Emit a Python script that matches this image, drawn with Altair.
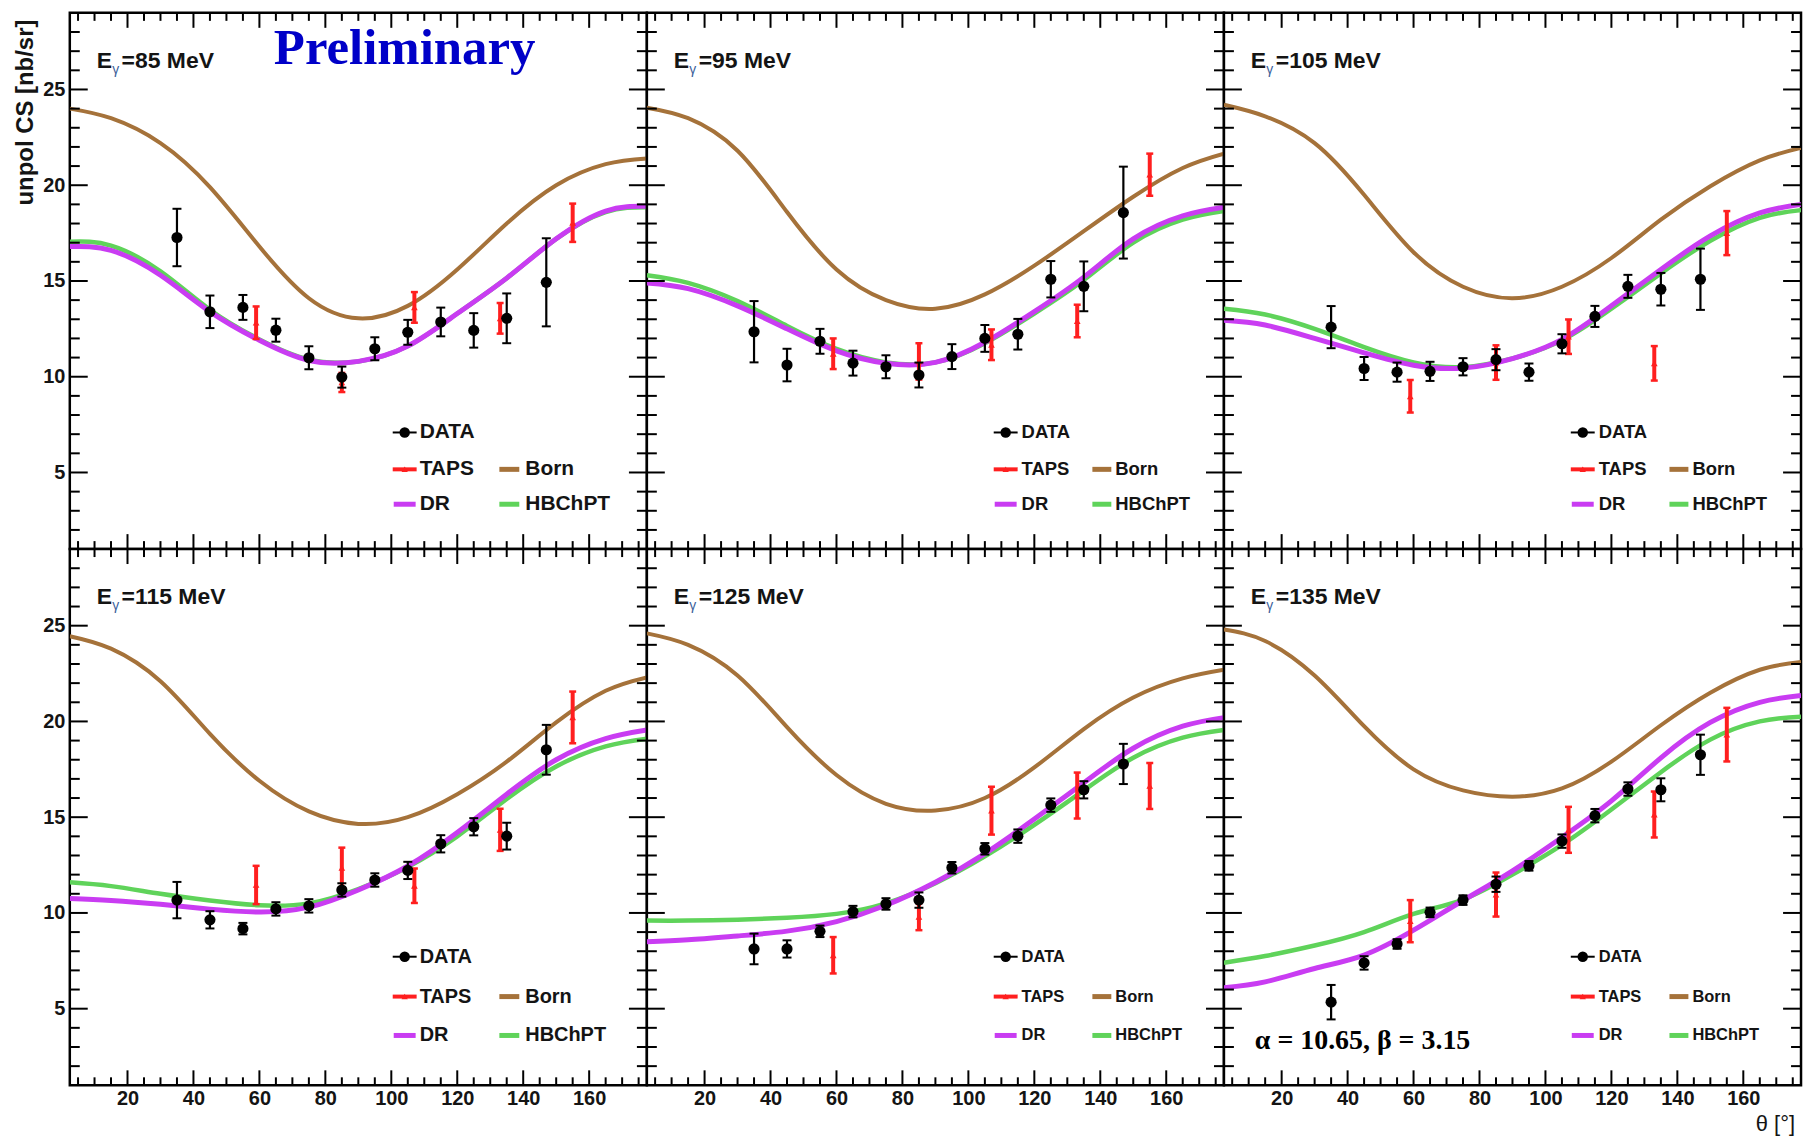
import altair as alt
import pandas as pd

# ---------------- data ----------------
ENERGIES = [85, 95, 105, 115, 125, 135]
THETA_CURVE = [2.5, 15, 30, 45, 60, 75, 90, 105, 120, 135, 150, 165, 177.5]
THETA_DATA = [35, 45, 55, 65, 75, 85, 95, 105, 115, 125, 135, 147]
THETA_TAPS = [59, 85, 107, 133, 155]

X_MAJOR = [20, 40, 60, 80, 100, 120, 140, 160]
X_MINOR = [5, 10, 15, 25, 30, 35, 45, 50, 55, 65, 70, 75, 85, 90, 95, 105, 110, 115,
           125, 130, 135, 145, 150, 155, 165, 170, 175]
Y_MAJOR = [5, 10, 15, 20, 25]
Y_MINOR = [2, 3, 4, 6, 7, 8, 9, 11, 12, 13, 14, 16, 17, 18, 19, 21, 22, 23, 24, 26, 27, 28]

BORN_85 = [24.0, 23.5, 22.2, 19.9, 16.8, 14.1, 13.05, 13.7, 15.6, 18.0, 20.0, 21.1, 21.4]
DR_85 = [16.8, 16.6, 15.3, 13.4, 11.9, 10.85, 10.8, 11.6, 13.3, 15.15, 17.2, 18.65, 18.9]
HB_85 = [17.05, 16.85, 15.5, 13.5, 11.95, 10.9, 10.8, 11.6, 13.3, 15.15, 17.2, 18.6, 18.85]
DATA_85 = [17.27, 13.39, 13.62, 12.43, 10.99, 9.98, 11.46, 12.32, 12.86, 12.42, 13.05, 14.93]
DATAERR_85 = [1.5, 0.85, 0.65, 0.6, 0.6, 0.55, 0.6, 0.65, 0.75, 0.9, 1.3, 2.3]
TAPS_85 = [12.82, 9.7, 13.62, 13.05, 18.04]
TAPSERR_85 = [0.85, 0.5, 0.8, 0.8, 1.0]

BORN_95 = [24.05, 23.5, 21.8, 18.6, 15.6, 14.0, 13.55, 14.3, 15.8, 17.6, 19.4, 20.9, 21.65]
DR_95 = [14.9, 14.6, 13.7, 12.5, 11.35, 10.7, 10.75, 11.8, 13.4, 15.2, 17.2, 18.4, 18.85]
HB_95 = [15.3, 14.9, 13.95, 12.65, 11.45, 10.75, 10.75, 11.75, 13.3, 15.05, 17.0, 18.2, 18.65]
DATA_95 = [12.35, 10.61, 11.85, 10.71, 10.52, 10.09, 11.05, 12.0, 12.22, 15.09, 14.72, 18.57]
DATAERR_95 = [1.6, 0.85, 0.65, 0.65, 0.6, 0.65, 0.65, 0.7, 0.8, 0.95, 1.3, 2.4]
TAPS_95 = [11.2, 10.8, 11.67, 12.91, 20.55]
TAPSERR_95 = [0.8, 0.95, 0.8, 0.85, 1.1]

BORN_105 = [24.2, 23.6, 22.2, 19.5, 16.5, 14.7, 14.1, 14.7, 16.2, 18.2, 19.95, 21.3, 21.95]
DR_105 = [12.95, 12.7, 12.0, 11.25, 10.6, 10.45, 10.95, 11.95, 13.7, 15.6, 17.35, 18.55, 19.0]
HB_105 = [13.55, 13.25, 12.5, 11.55, 10.75, 10.5, 10.95, 11.9, 13.55, 15.4, 17.1, 18.3, 18.7]
DATA_105 = [12.59, 10.43, 10.24, 10.28, 10.52, 10.89, 10.24, 11.72, 13.15, 14.72, 14.57, 15.09]
DATAERR_105 = [1.1, 0.6, 0.5, 0.5, 0.45, 0.55, 0.45, 0.5, 0.55, 0.6, 0.85, 1.6]
TAPS_105 = [8.98, 10.74, 12.09, 10.7, 17.5]
TAPSERR_105 = [0.85, 0.9, 0.9, 0.9, 1.15]

BORN_115 = [24.45, 23.8, 22.1, 19.35, 16.9, 15.3, 14.65, 15.0, 16.2, 17.9, 19.95, 21.6, 22.3]
DR_115 = [10.75, 10.65, 10.45, 10.2, 10.05, 10.3, 11.2, 12.45, 14.2, 16.2, 18.0, 19.1, 19.55]
HB_115 = [11.6, 11.4, 11.0, 10.65, 10.4, 10.5, 11.25, 12.4, 14.0, 15.95, 17.65, 18.7, 19.1]
DATA_115 = [10.67, 9.64, 9.18, 10.21, 10.37, 11.2, 11.72, 12.22, 13.61, 14.5, 14.01, 18.52]
DATAERR_115 = [0.95, 0.45, 0.3, 0.35, 0.35, 0.35, 0.35, 0.45, 0.45, 0.45, 0.7, 1.3]
TAPS_115 = [11.46, 12.36, 11.42, 14.34, 20.21]
TAPSERR_115 = [1.0, 1.05, 0.9, 1.1, 1.35]

BORN_125 = [24.6, 24.0, 22.4, 19.7, 17.2, 15.7, 15.35, 16.0, 17.6, 19.6, 21.25, 22.25, 22.7]
DR_125 = [8.5, 8.6, 8.8, 9.05, 9.55, 10.4, 11.6, 13.1, 14.9, 16.8, 18.6, 19.75, 20.2]
HB_125 = [9.6, 9.6, 9.65, 9.75, 9.95, 10.5, 11.55, 12.95, 14.6, 16.4, 18.1, 19.15, 19.55]
DATA_125 = [8.12, 8.12, 9.04, 10.07, 10.47, 10.67, 12.36, 13.35, 14.01, 15.63, 16.43, 17.78]
DATAERR_125 = [0.8, 0.45, 0.3, 0.3, 0.3, 0.4, 0.3, 0.3, 0.35, 0.35, 0.45, 1.05]
TAPS_125 = [7.79, 9.8, 15.34, 16.13, 16.63]
TAPSERR_125 = [0.95, 0.7, 1.25, 1.2, 1.2]

BORN_135 = [24.8, 24.2, 22.4, 19.75, 17.5, 16.4, 16.07, 16.5, 17.9, 19.8, 21.5, 22.7, 23.1]
DR_135 = [6.1, 6.4, 7.1, 7.8, 9.1, 10.65, 12.2, 13.95, 15.85, 18.1, 19.95, 21.0, 21.35]
HB_135 = [7.4, 7.75, 8.3, 9.0, 9.95, 10.7, 12.0, 13.55, 15.4, 17.35, 19.05, 20.0, 20.25]
DATA_135 = [5.34, 7.39, 8.38, 10.03, 10.67, 11.5, 12.46, 13.75, 15.08, 16.47, 16.43, 18.26]
DATAERR_135 = [0.9, 0.35, 0.25, 0.25, 0.25, 0.4, 0.25, 0.35, 0.35, 0.35, 0.6, 1.05]
TAPS_135 = [9.57, 10.96, 14.34, 15.14, 19.31]
TAPSERR_135 = [1.1, 1.15, 1.2, 1.2, 1.4]

PANELS = [
    (85, BORN_85, DR_85, HB_85, DATA_85, DATAERR_85, TAPS_85, TAPSERR_85),
    (95, BORN_95, DR_95, HB_95, DATA_95, DATAERR_95, TAPS_95, TAPSERR_95),
    (105, BORN_105, DR_105, HB_105, DATA_105, DATAERR_105, TAPS_105, TAPSERR_105),
    (115, BORN_115, DR_115, HB_115, DATA_115, DATAERR_115, TAPS_115, TAPSERR_115),
    (125, BORN_125, DR_125, HB_125, DATA_125, DATAERR_125, TAPS_125, TAPSERR_125),
    (135, BORN_135, DR_135, HB_135, DATA_135, DATAERR_135, TAPS_135, TAPSERR_135),
]

# ---------------- style ----------------
W, H = 579, 538
SANS = "Liberation Sans"
SERIF = "Liberation Serif"
INK = "#141414"
BROWN = "#a5723a"
DR_C = "#c93cf2"
HB_C = "#5fd35a"
RED = "#ff1f1f"
LEG_FS = [21, 18.5, 18.5, 20, 16.5, 16.5]

DUMMY = pd.DataFrame({"a": [0]})


def txt(s, x, y, size, font=SANS, weight="bold", color=INK, align="left",
        baseline="middle", angle=0):
    return alt.Chart(DUMMY).mark_text(
        text=s, font=font, fontSize=size, fontWeight=weight, color=color,
        align=align, baseline=baseline, angle=angle
    ).encode(x=alt.value(x), y=alt.value(y))


def hline(x0, x1, y, color, width):
    return alt.Chart(DUMMY).mark_rule(color=color, strokeWidth=width).encode(
        x=alt.value(x0), x2=alt.value(x1), y=alt.value(y))


def dot(x, y, shape, color, size):
    return alt.Chart(DUMMY).mark_point(
        shape=shape, filled=True, color=color, size=size, opacity=1
    ).encode(x=alt.value(x), y=alt.value(y))


def make_panel(i, E, born, dr, hb, dat, daterr, taps, tapserr):
    row, col = divmod(i, 3)
    xs = alt.Scale(domain=[2.5, 177.5], nice=False, zero=False)
    ys = alt.Scale(domain=[1, 29], nice=False, zero=False)
    if row == 1:
        xaxis = alt.Axis(values=X_MAJOR, ticks=False, tickSize=0, domain=False, grid=False,
                         labelFont=SANS, labelFontSize=20, labelFontWeight="bold",
                         labelColor=INK, labelPadding=3, title=None)
    else:
        xaxis = None
    if col == 0:
        yaxis = alt.Axis(values=Y_MAJOR, ticks=False, tickSize=0, domain=False, grid=False,
                         labelFont=SANS, labelFontSize=20, labelFontWeight="bold",
                         labelColor=INK, labelPadding=5, minExtent=60, maxExtent=60,
                         title=None)
    else:
        yaxis = None

    def X(f):
        return alt.X(f, type="quantitative", scale=xs, axis=xaxis)

    def Y(f):
        return alt.Y(f, type="quantitative", scale=ys, axis=yaxis)

    layers = []
    # model curves
    for vals, color, sw in ((born, BROWN, 4), (hb, HB_C, 4.5), (dr, DR_C, 5)):
        df = pd.DataFrame({"theta": THETA_CURVE, "cs": vals})
        layers.append(alt.Chart(df).mark_line(color=color, strokeWidth=sw,
                                              interpolate="natural", clip=True)
                      .encode(x=X("theta"), y=Y("cs")))

    # inward ticks on all four sides
    for vals, ln in ((X_MAJOR, 15), (X_MINOR, 8)):
        d = pd.DataFrame({"v": vals})
        layers.append(alt.Chart(d).mark_rule(color="black", strokeWidth=2)
                      .encode(x=X("v"), y=alt.value(H), y2=alt.value(H - ln)))
        layers.append(alt.Chart(d).mark_rule(color="black", strokeWidth=2)
                      .encode(x=X("v"), y=alt.value(0), y2=alt.value(ln)))
    for vals, ln in ((Y_MAJOR, 18), (Y_MINOR, 10)):
        d = pd.DataFrame({"v": vals})
        layers.append(alt.Chart(d).mark_rule(color="black", strokeWidth=2)
                      .encode(y=Y("v"), x=alt.value(0), x2=alt.value(ln)))
        layers.append(alt.Chart(d).mark_rule(color="black", strokeWidth=2)
                      .encode(y=Y("v"), x=alt.value(W), x2=alt.value(W - ln)))

    # TAPS
    tdf = pd.DataFrame({"theta": THETA_TAPS, "cs": taps})
    tdf["lo"] = tdf["cs"] - pd.Series(tapserr)
    tdf["hi"] = tdf["cs"] + pd.Series(tapserr)
    layers.append(alt.Chart(tdf).mark_rule(color=RED, strokeWidth=4)
                  .encode(x=X("theta"), y=Y("lo"), y2="hi"))
    for f in ("lo", "hi"):
        layers.append(alt.Chart(tdf).mark_tick(color=RED, orient="horizontal",
                                               size=7, thickness=2.5, opacity=1)
                      .encode(x=X("theta"), y=Y(f)))
    layers.append(alt.Chart(tdf).mark_point(shape="triangle-up", filled=True, color=RED,
                                            size=45, opacity=1)
                  .encode(x=X("theta"), y=Y("cs")))

    # DATA
    ddf = pd.DataFrame({"theta": THETA_DATA, "cs": dat})
    ddf["lo"] = ddf["cs"] - pd.Series(daterr)
    ddf["hi"] = ddf["cs"] + pd.Series(daterr)
    layers.append(alt.Chart(ddf).mark_rule(color="black", strokeWidth=2.2)
                  .encode(x=X("theta"), y=Y("lo"), y2="hi"))
    for f in ("lo", "hi"):
        layers.append(alt.Chart(ddf).mark_tick(color="black", orient="horizontal",
                                               size=9, thickness=2, opacity=1)
                      .encode(x=X("theta"), y=Y(f)))
    layers.append(alt.Chart(ddf).mark_point(shape="circle", filled=True, color="black",
                                            size=125, opacity=1)
                  .encode(x=X("theta"), y=Y("cs")))

    # panel title  E_gamma = xx MeV
    layers.append(txt("E", 27, 55, 23, baseline="alphabetic"))
    layers.append(txt("\u03b3", 42.5, 61, 14, weight="normal", color="#3c5f9a",
                      baseline="alphabetic"))
    layers.append(txt("=%d MeV" % E, 52, 55, 23, baseline="alphabetic"))

    # legend
    fs = LEG_FS[i]
    if col == 0:
        mx, tx, lx0, lx1, tx2 = 336, 351, 431, 451, 457
    else:
        mx, tx, lx0, lx1, tx2 = 360, 376, 447, 466, 470
    r = (421, 458, 493) if row == 0 else (409, 449, 488)
    layers += [
        hline(mx - 12, mx + 12, r[0], "black", 2),
        dot(mx, r[0], "circle", "black", 110),
        txt("DATA", tx, r[0], fs),
        hline(mx - 12, mx + 12, r[1], RED, 4),
        dot(mx, r[1], "triangle-up", RED, 40),
        txt("TAPS", tx, r[1], fs),
        hline(lx0, lx1, r[1], BROWN, 5),
        txt("Born", tx2, r[1], fs),
        hline(mx - 11, mx + 11, r[2], DR_C, 5),
        txt("DR", tx, r[2], fs),
        hline(lx0, lx1, r[2], HB_C, 5),
        txt("HBChPT", tx2, r[2], fs),
    ]

    if i == 0:
        layers.append(txt("Preliminary", 336, 51, 51, font=SERIF, color="#0000c8",
                          align="center", baseline="alphabetic"))
        layers.append(txt("unpol CS [nb/sr]", -44, 100, 24, angle=270,
                          align="center", baseline="middle"))
    if i == 5:
        layers.append(txt("\u03b1 = 10.65, \u03b2 = 3.15", 31, 502, 28, font=SERIF,
                          color="black", baseline="alphabetic"))
        layers.append(txt("\u03b8 [\u00b0]", 573, 584, 22, weight="normal",
                          align="right", baseline="alphabetic"))

    return alt.layer(*layers).properties(width=W, height=H)


panels = [make_panel(i, *p) for i, p in enumerate(PANELS)]

chart = (
    alt.concat(*panels, columns=3, spacing=0, bounds="flush")
    .properties(padding={"left": 0, "top": 0, "right": 2, "bottom": 0},
                background="white")
    .configure_view(stroke="black", strokeWidth=2.5, fill="white")
)

chart.save("out.html", embed_options={"renderer": "svg", "actions": False})
